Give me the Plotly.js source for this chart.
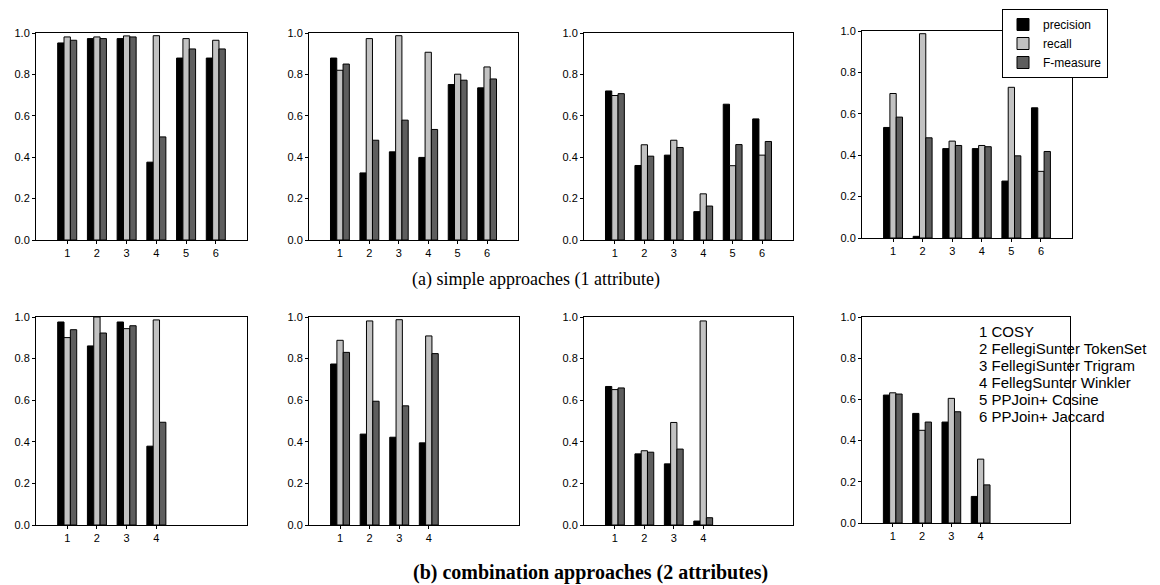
<!DOCTYPE html>
<html>
<head>
<meta charset="utf-8">
<script src="https://cdn.plot.ly/plotly-3.0.1.min.js"></script>
<style>
html,body{margin:0;padding:0;background:#fff;}
#chart{width:1160px;height:585px;}
</style>
</head>
<body>
<div id="chart"></div>
<script>
// ---- data ----
const seriesNames = ["precision", "recall", "F-measure"];
const simpleApproaches = [1, 2, 3, 4, 5, 6];
const comboApproaches = [1, 2, 3, 4];
const approachLabels = [
  "1 COSY",
  "2 FellegiSunter TokenSet",
  "3 FellegiSunter Trigram",
  "4 FellegSunter Winkler",
  "5 PPJoin+ Cosine",
  "6 PPJoin+ Jaccard"
];
const captionA = "(a) simple approaches (1 attribute)";
const captionB = "(b) combination approaches (2 attributes)";

// (a) simple approaches, four panels
const a1Precision = [0.952, 0.973, 0.973, 0.376, 0.879, 0.879];
const a1Recall    = [0.981, 0.981, 0.986, 0.987, 0.973, 0.965];
const a1FMeasure  = [0.965, 0.973, 0.981, 0.498, 0.923, 0.923];

const a2Precision = [0.879, 0.324, 0.426, 0.399, 0.751, 0.735];
const a2Recall    = [0.820, 0.973, 0.987, 0.907, 0.801, 0.836];
const a2FMeasure  = [0.850, 0.482, 0.579, 0.534, 0.772, 0.778];

const a3Precision = [0.720, 0.360, 0.410, 0.137, 0.656, 0.585];
const a3Recall    = [0.698, 0.460, 0.482, 0.223, 0.359, 0.410];
const a3FMeasure  = [0.707, 0.405, 0.447, 0.164, 0.461, 0.476];

const a4Precision = [0.534, 0.008, 0.432, 0.432, 0.275, 0.629];
const a4Recall    = [0.698, 0.987, 0.468, 0.447, 0.728, 0.322];
const a4FMeasure  = [0.584, 0.484, 0.447, 0.441, 0.397, 0.418];

// (b) combination approaches, four panels
const b1Precision = [0.976, 0.861, 0.976, 0.379];
const b1Recall    = [0.901, 1.000, 0.944, 0.986];
const b1FMeasure  = [0.939, 0.923, 0.958, 0.494];

const b2Precision = [0.774, 0.437, 0.422, 0.395];
const b2Recall    = [0.888, 0.981, 0.987, 0.909];
const b2FMeasure  = [0.830, 0.595, 0.573, 0.824];

const b3Precision = [0.666, 0.342, 0.294, 0.019];
const b3Recall    = [0.651, 0.357, 0.493, 0.981];
const b3FMeasure  = [0.659, 0.350, 0.365, 0.035];

const b4Precision = [0.621, 0.532, 0.490, 0.129];
const b4Recall    = [0.632, 0.450, 0.605, 0.310];
const b4FMeasure  = [0.626, 0.490, 0.540, 0.185];

const yTickVals = [0, 0.2, 0.4, 0.6, 0.8, 1.0];

// ---- styling / layout ----
const W = 1160, H = 585;
const colors = ["#000000", "#c2c2c2", "#5e5e5e"];
const tickFont = {family: "Liberation Sans, Arial, sans-serif", size: 11, color: "#000"};

const panels = [
  {cats: simpleApproaches, data: [a1Precision, a1Recall, a1FMeasure], box: [36, 247, 33, 240]},
  {cats: simpleApproaches, data: [a2Precision, a2Recall, a2FMeasure], box: [309, 518, 33, 240]},
  {cats: simpleApproaches, data: [a3Precision, a3Recall, a3FMeasure], box: [584, 793, 33, 240]},
  {cats: simpleApproaches, data: [a4Precision, a4Recall, a4FMeasure], box: [862, 1072, 31, 238]},
  {cats: comboApproaches,  data: [b1Precision, b1Recall, b1FMeasure], box: [36, 247, 317, 525]},
  {cats: comboApproaches,  data: [b2Precision, b2Recall, b2FMeasure], box: [309, 519, 317, 525]},
  {cats: comboApproaches,  data: [b3Precision, b3Recall, b3FMeasure], box: [584, 793, 317, 525]},
  {cats: comboApproaches,  data: [b4Precision, b4Recall, b4FMeasure], box: [862, 1070, 317, 523]}
];

const traces = [];
const layout = {
  width: W, height: H,
  margin: {l: 0, r: 0, t: 0, b: 0},
  paper_bgcolor: "#fff",
  plot_bgcolor: "#fff",
  barmode: "group",
  bargap: 0.36,
  bargroupgap: 0,
  font: tickFont,
  showlegend: true,
  legend: {
    x: 1002 / W, y: 1 - 9 / H, xanchor: "left", yanchor: "top",
    bordercolor: "#000", borderwidth: 1, bgcolor: "#fff",
    font: {family: "Liberation Sans, Arial, sans-serif", size: 12, color: "#000"},
    tracegroupgap: 0
  },
  annotations: [],
  shapes: []
};

panels.forEach((p, i) => {
  const n = i + 1;
  const xa = n === 1 ? "x" : "x" + n;
  const ya = n === 1 ? "y" : "y" + n;
  p.data.forEach((vals, s) => {
    traces.push({
      type: "bar",
      name: seriesNames[s],
      x: p.cats,
      y: vals,
      xaxis: xa, yaxis: ya,
      marker: {color: colors[s], line: {color: "#000", width: 1}},
      showlegend: n === 1,
      legendgroup: seriesNames[s],
      hoverinfo: "x+y+name"
    });
  });
  const [x0, x1, y0, y1] = p.box;
  layout["xaxis" + (n === 1 ? "" : n)] = {
    domain: [x0 / W, x1 / W],
    anchor: ya,
    range: [-0.05, 7.05],
    tickmode: "array",
    tickvals: p.cats,
    ticktext: p.cats.map(String),
    showline: true, mirror: true, linecolor: "#000", linewidth: 1,
    ticks: "outside", ticklen: 3, tickcolor: "#000", tickwidth: 1,
    showgrid: false, zeroline: false,
    tickfont: tickFont, fixedrange: true
  };
  layout["yaxis" + (n === 1 ? "" : n)] = {
    domain: [1 - y1 / H, 1 - y0 / H],
    anchor: xa,
    range: [0, 1],
    tickmode: "array",
    tickvals: yTickVals,
    ticktext: yTickVals.map(v => v.toFixed(1)),
    showline: true, mirror: true, linecolor: "#000", linewidth: 1,
    ticks: "outside", ticklen: 3, tickcolor: "#000", tickwidth: 1,
    showgrid: false, zeroline: false,
    tickfont: tickFont, fixedrange: true
  };
});

// captions
layout.annotations.push({
  text: captionA, xref: "paper", yref: "paper",
  x: 536 / W, y: 1 - 279 / H, xanchor: "center", yanchor: "middle",
  showarrow: false,
  font: {family: "Liberation Serif, Times New Roman, serif", size: 18, color: "#000"}
});
layout.annotations.push({
  text: "<b>" + captionB + "</b>", xref: "paper", yref: "paper",
  x: 590 / W, y: 1 - 572 / H, xanchor: "center", yanchor: "middle",
  showarrow: false,
  font: {family: "Liberation Serif, Times New Roman, serif", size: 20, color: "#000"}
});

// approach key inside the last panel
approachLabels.forEach((t, k) => {
  layout.annotations.push({
    text: t, xref: "paper", yref: "paper",
    x: 977 / W, y: 1 - (331 + k * 17.1) / H, xanchor: "left", yanchor: "middle",
    showarrow: false,
    font: {family: "Liberation Sans, Arial, sans-serif", size: 15, color: "#000"}
  });
});

Plotly.newPlot("chart", traces, layout, {displayModeBar: false, staticPlot: true});
</script>
</body>
</html>
